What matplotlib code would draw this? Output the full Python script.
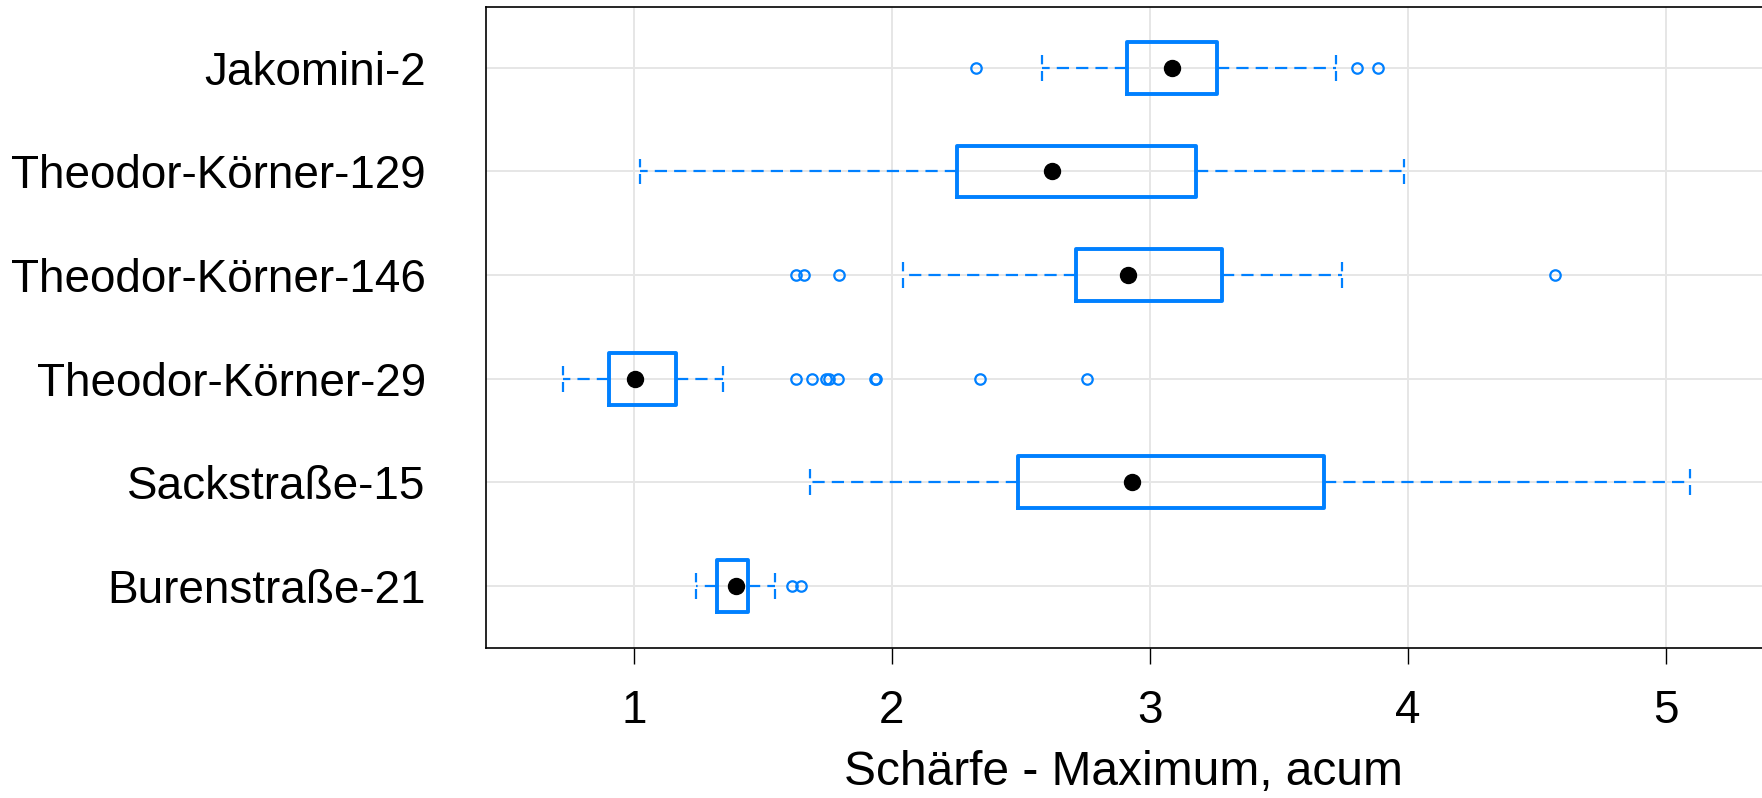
import numpy as np
import matplotlib
matplotlib.use("Agg")
import matplotlib.pyplot as plt

plt.rcParams['font.family'] = ['Liberation Sans', 'DejaVu Sans']

# sites, bottom to top
sites = ["Burenstraße-21", "Sackstraße-15", "Theodor-Körner-29",
         "Theodor-Körner-146", "Theodor-Körner-129", "Jakomini-2"]

# five-number summaries per site
whis_lo = [1.240, 1.681, 0.726, 2.045, 1.022, 2.581]
q1 = [1.324, 2.488, 0.904, 2.712, 2.254, 2.911]
median = [1.395, 2.931, 1.006, 2.915, 2.621, 3.085]
q3 = [1.442, 3.676, 1.164, 3.279, 3.179, 3.260]
whis_hi = [1.549, 5.093, 1.347, 3.744, 3.984, 3.722]

# points beyond the whiskers
outliers = [
    [1.614, 1.647],
    [],
    [1.629, 1.692, 1.744, 1.758, 1.793, 1.933, 1.940, 2.343, 2.755],
    [1.629, 1.660, 1.794, 4.570],
    [],
    [2.328, 3.802, 3.886],
]

blue = "#0080ff"
positions = np.arange(1, len(sites) + 1)

stats = []
for i, name in enumerate(sites):
    stats.append(dict(label=name, whislo=whis_lo[i], q1=q1[i], med=median[i],
                      q3=q3[i], whishi=whis_hi[i], fliers=outliers[i]))

fig = plt.figure(figsize=(17.62, 7.98), dpi=100)
ax = fig.add_axes([485.5 / 1762, 1 - 648 / 798, 1 - 485.5 / 1762, (648 - 7.3) / 798])

dash = (0, (5.5, 3.2))
ax.bxp(stats, positions=positions, widths=0.5, orientation='horizontal',
       capwidths=0.25,
       boxprops=dict(color=blue, linewidth=2.8),
       whiskerprops=dict(color=blue, linewidth=1.6, linestyle=dash),
       capprops=dict(color=blue, linewidth=1.6, linestyle=(0, (4.5, 3.0))),
       medianprops=dict(linewidth=0),
       flierprops=dict(marker='o', markerfacecolor='none', markeredgecolor=blue,
                       markersize=7.5, markeredgewidth=1.6, linestyle='none'))

# median shown as a solid black dot
ax.plot(median, positions, 'o', color='black', markersize=11.5, zorder=5)

ax.set_xlim(0.425, 5.373)
ax.set_ylim(0.4, 6.585)
ax.set_xticks([1, 2, 3, 4, 5])
ax.set_yticks(positions)
ax.set_yticklabels(sites)

ax.grid(True, color="#e6e6e6", linewidth=1.4)
ax.set_axisbelow(True)

for side in ["left", "top", "bottom"]:
    ax.spines[side].set_linewidth(1.2)
ax.spines["right"].set_visible(False)

ax.tick_params(axis='y', length=0, pad=43, labelsize=33)
ax.tick_params(axis='x', length=11.5, width=1, pad=18, labelsize=33)
ax.set_xlabel("Schärfe - Maximum, acum", fontsize=34.5, labelpad=12)

fig.savefig("out.png", dpi=100)
